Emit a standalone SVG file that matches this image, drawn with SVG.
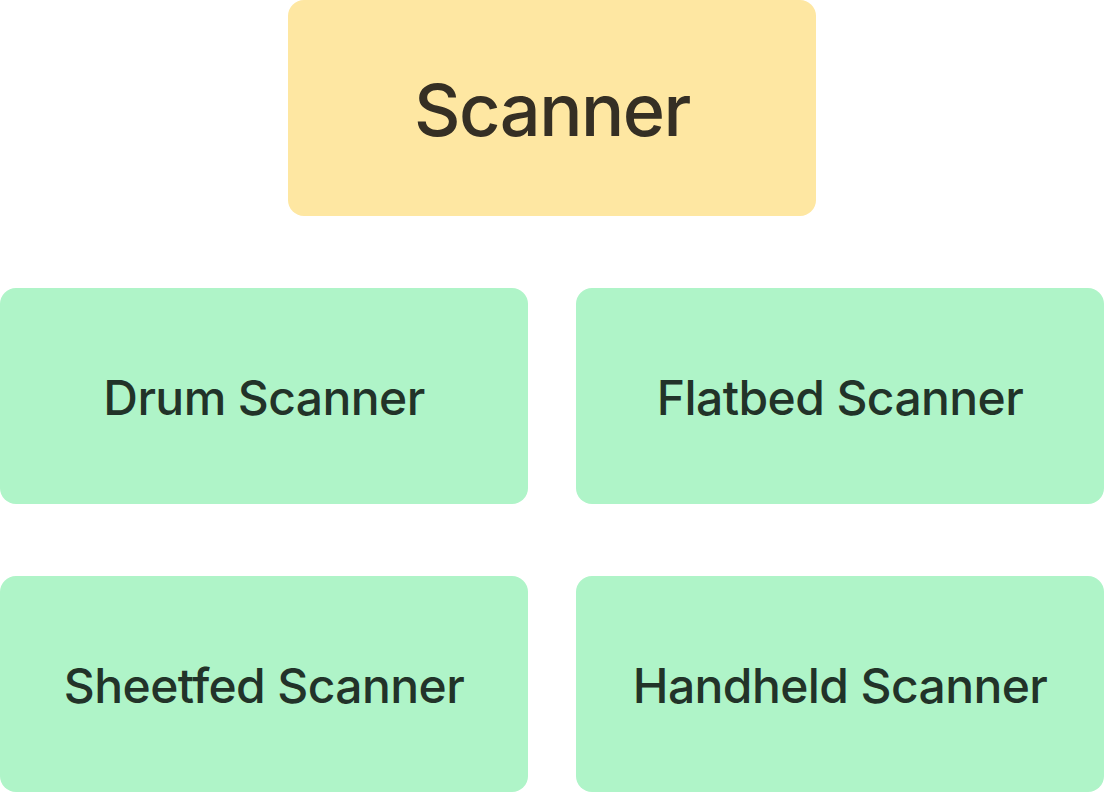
<svg xmlns="http://www.w3.org/2000/svg" width="1104" height="792" viewBox="0 0 1104 792">
<style>
.root rect{fill:#fee7a2}
.leaf rect{fill:#aff4c8}
.root text{font-family:Inter,"Liberation Sans",sans-serif;font-size:72px;font-weight:500;letter-spacing:-1.5px;fill:#352f24;text-anchor:middle}
.leaf text{font-family:Inter,"Liberation Sans",sans-serif;font-size:48px;font-weight:500;letter-spacing:-0.6px;fill:#223329;text-anchor:middle}
</style>
<rect width="1104" height="792" fill="#ffffff"/>
<g id="connectors"></g>
<g id="scanner" class="root"><rect x="288" y="0" width="528" height="216" rx="16"/><text x="552" y="136">Scanner</text></g>
<g id="drum" class="leaf"><rect x="0" y="288" width="528" height="216" rx="16"/><text x="264" y="415">Drum Scanner</text></g>
<g id="flatbed" class="leaf"><rect x="576" y="288" width="528" height="216" rx="16"/><text x="840" y="415">Flatbed Scanner</text></g>
<g id="sheetfed" class="leaf"><rect x="0" y="576" width="528" height="216" rx="16"/><text x="264" y="703">Sheetfed Scanner</text></g>
<g id="handheld" class="leaf"><rect x="576" y="576" width="528" height="216" rx="16"/><text x="840" y="703">Handheld Scanner</text></g>
</svg>
